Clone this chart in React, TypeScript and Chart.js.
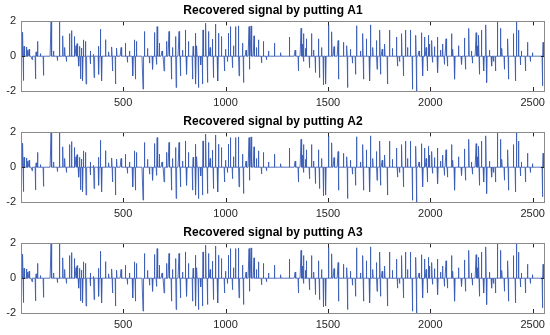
import React, { useEffect, useRef } from "react";
import { Chart, registerables } from "chart.js";

Chart.register(...registerables);

const signalLength = 2560;
const titles = [
  "Recovered signal by putting A1",
  "Recovered signal by putting A2",
  "Recovered signal by putting A3",
];
const xTickValues = [500, 1000, 1500, 2000, 2500];
const yTickValues = [-2, 0, 2];

const spikeIndex = [
  10, 13, 16, 27, 41, 72, 75, 82, 110, 148, 189, 206, 224, 237, 248, 262, 275, 284, 286, 293,
  296, 303, 307, 317, 319, 355, 358, 379, 381, 389, 396, 414, 445, 447, 462, 469, 510, 548, 555, 559,
  566, 597, 604, 645, 652, 662, 666, 678, 700, 712, 724, 735, 756, 759, 773, 780, 804, 811, 818, 838,
  842, 852, 855, 869, 887, 890, 904, 911, 918, 935, 942, 952, 963, 966, 980, 994, 1015, 1025, 1035, 1049,
  1063, 1066, 1084, 1087, 1115, 1118, 1125, 1139, 1160, 1177, 1184, 1239, 1312, 1356, 1369, 1381, 1395, 1411, 1420, 1438,
  1455, 1458, 1477, 1490, 1502, 1519, 1550, 1553, 1576, 1593, 1596, 1636, 1640, 1671, 1674, 1688, 1705, 1709, 1737, 1740,
  1754, 1757, 1778, 1792, 1800, 1835, 1840, 1861, 1869, 1878, 1904, 1913, 1930, 1933, 1956, 1964, 1973, 1985, 1990, 2008,
  2034, 2037, 2060, 2068, 2077, 2085, 2103, 2120, 2137, 2154, 2168, 2172, 2189, 2224, 2237, 2241, 2249, 2262, 2272, 2276,
  2301, 2319, 2327, 2344, 2362, 2379, 2382, 2405, 2417, 2422, 2430, 2465, 2474, 2548, 2551, 2560,
];
const spikeValue = [
  1.38, -1.4, 0.57, 0.53, 0.4, -1.3, 0.25, 0.85, -1.1, 2.0, 2.0, 1.17, -0.3, 1.3, 1.47, 1.13, 0.72, -0.57, 0.57, -1.3,
  0.47, -1.4, 0.94, 0.85, -1.6, 0.1, -1.23, 0.57, -1.04, 1.55, -1.42, 0.95, 0.53, -0.85, -1.6, 0.47, 0.75, -1.13, 0.94, -1.32,
  0.85, -1.89, 1.42, -0.75, 1.36, -0.47, 1.7, 0.75, -0.85, 0.85, 1.42, -1.32, 1.13, -1.8, 1.42, -1.13, 1.51, -1.04, 0.85, -1.32,
  0.57, 1.32, -1.6, -1.8, -1.6, 1.51, 1.9, -1.51, 1.42, 0.98, -1.23, 1.85, -1.42, 1.32, 1.13, -0.85, 1.32, 1.7, -0.66, 1.7,
  1.74, -1.13, 0.75, -1.51, 1.7, -0.75, 1.74, 1.17, 0.94, -0.38, 0.85, 0.75, 1.1, -0.85, 1.6, 1.3, 1.0, -0.66, 1.3, -0.94,
  1.0, -1.23, -1.65, -1.6, 1.8, 1.4, 0.9, -1.32, 0.8, 0.6, -1.8, -1.04, 1.75, 1.3, -1.32, 1.0, -1.42, 1.8, 0.9, -0.75,
  1.5, -1.04, 0.7, -1.6, 1.5, 1.1, -0.57, 1.3, -1.13, 1.5, 1.5, -1.9, 1.2, -2.0, 1.35, -1.13, 1.1, -0.85, 1.2, 0.9,
  1.1, -0.94, 0.7, -0.47, 1.0, -0.57, 1.3, -1.32, 0.6, -0.47, 1.05, -0.75, 1.6, 1.35, 1.2, -1.04, 1.5, -0.85, 1.8, -1.51,
  -0.57, -0.85, 2.0, 1.6, -0.75, 1.0, -1.32, 1.3, -1.42, 2.0, 1.5, -0.85, 0.8, -1.7, 0.8, 1.1,
];

const smallSpikeIndex = [
  33, 95, 160, 215, 270, 341, 430, 490, 530, 620, 690, 740, 790, 860, 925, 1000, 1040, 1100, 1150, 1210,
  1270, 1340, 1375, 1390, 1430, 1470, 1530, 1610, 1660, 1720, 1765, 1815, 1890, 1945, 1980, 1995, 2020, 2050, 2110, 2200,
  2230, 2290, 2350, 2445, 2500, 55, 180, 340, 520, 630, 880, 1010, 1200, 1380, 1620, 1850, 2010, 2205, 2310, 2440, 2490,
];
const smallSpikeValue = [
  0.35, 0.15, 0.3, 0.5, 0.6, 0.3, 0.25, 0.5, 0.3, 0.45, 0.3, 0.5, 0.35, 0.6, 0.5, 0.4, 0.6, 0.35, 0.5, 0.3,
  0.2, 0.35, 0.7, 0.45, 0.35, 0.5, 0.55, 0.4, 0.3, 0.5, 0.4, 0.45, 0.5, 0.3, 0.5, 0.7, 0.55, 0.35, 0.4, 0.3,
  0.6, 0.35, 0.45, 0.3, 0.2, -0.2, -0.25, -0.45, -0.35, -0.4, -0.5, -0.3, -0.2, -0.3, -0.4, -0.3, -0.35, -0.4, -0.3, -0.5, -0.3,
];

function buildSignal() {
  const arr: { x: number; y: number }[] = [];
  const vals = new Array(signalLength).fill(0);
  smallSpikeIndex.forEach((idx, k) => {
    vals[idx - 1] = smallSpikeValue[k];
  });
  spikeIndex.forEach((idx, k) => {
    vals[idx - 1] = spikeValue[k];
  });
  for (let i = 0; i < signalLength; i++) arr.push({ x: i + 1, y: vals[i] });
  return arr;
}

const frameAndTicks = {
  id: "frameAndTicks",
  afterDraw(chart: any) {
    const { ctx, chartArea, scales } = chart;
    const { left, right, top, bottom } = chartArea;
    ctx.save();
    ctx.strokeStyle = "#262626";
    ctx.lineWidth = 1;
    ctx.beginPath();
    scales.x.ticks.forEach((t: any) => {
      const px = Math.round(scales.x.getPixelForValue(t.value)) + 0.5;
      ctx.moveTo(px, bottom);
      ctx.lineTo(px, bottom - 4);
      ctx.moveTo(px, top);
      ctx.lineTo(px, top + 4);
    });
    scales.y.ticks.forEach((t: any) => {
      const py = Math.round(scales.y.getPixelForValue(t.value)) + 0.5;
      ctx.moveTo(left, py);
      ctx.lineTo(left + 4, py);
      ctx.moveTo(right, py);
      ctx.lineTo(right - 4, py);
    });
    ctx.stroke();
    ctx.strokeStyle = "#8a8a8a";
    ctx.strokeRect(Math.round(left) + 0.5, Math.round(top) + 0.5, Math.round(right - left) - 1, Math.round(bottom - top));
    ctx.restore();
  },
};

function SubPlot({ title, top }: { title: string; top: number }) {
  const ref = useRef<HTMLCanvasElement | null>(null);
  useEffect(() => {
    if (!ref.current) return;
    const chart = new Chart(ref.current, {
      type: "line",
      data: {
        datasets: [
          {
            data: buildSignal(),
            borderColor: "#3a5cb4",
            borderWidth: 0.9,
            pointRadius: 0,
            tension: 0,
            fill: false,
          },
        ],
      },
      options: {
        animation: false,
        responsive: false,
        maintainAspectRatio: false,
        layout: { padding: { left: 0, right: 4, top: 0, bottom: 0 } },
        plugins: {
          legend: { display: false },
          tooltip: { enabled: false },
          title: {
            display: true,
            text: title,
            color: "#000",
            font: { family: "'Liberation Sans', Arial, sans-serif", size: 12, weight: "bold", lineHeight: 1.2 },
            padding: { top: 3, bottom: 4 },
          },
        },
        scales: {
          x: {
            type: "linear",
            min: 1,
            max: signalLength,
            afterBuildTicks: (s: any) => {
              s.ticks = xTickValues.map((v) => ({ value: v }));
            },
            afterFit: (s: any) => {
              s.height = 20;
            },
            grid: { display: false, drawTicks: false },
            border: { display: false },
            ticks: {
              color: "#262626",
              padding: 5,
              maxRotation: 0,
              callback: (v: any) => String(v),
              font: { family: "'Liberation Sans', Arial, sans-serif", size: 11 },
            },
          },
          y: {
            type: "linear",
            min: -2,
            max: 2,
            afterBuildTicks: (s: any) => {
              s.ticks = yTickValues.map((v) => ({ value: v }));
            },
            afterFit: (s: any) => {
              s.width = 21;
            },
            grid: { display: false, drawTicks: false },
            border: { display: false },
            ticks: {
              color: "#262626",
              padding: 5,
              callback: (v: any) => String(v),
              font: { family: "'Liberation Sans', Arial, sans-serif", size: 11 },
            },
          },
        },
      },
      plugins: [frameAndTicks],
    });
    return () => chart.destroy();
  }, [title]);
  return (
    <canvas
      ref={ref}
      width={550}
      height={111}
      style={{ position: "absolute", left: 0, top, width: 550, height: 111 }}
    />
  );
}

export default function App() {
  return (
    <div style={{ position: "absolute", left: 0, top: 0, width: 550, height: 335, background: "#fff" }}>
      {titles.map((t, i) => (
        <SubPlot key={t} title={t} top={i * 111} />
      ))}
    </div>
  );
}
